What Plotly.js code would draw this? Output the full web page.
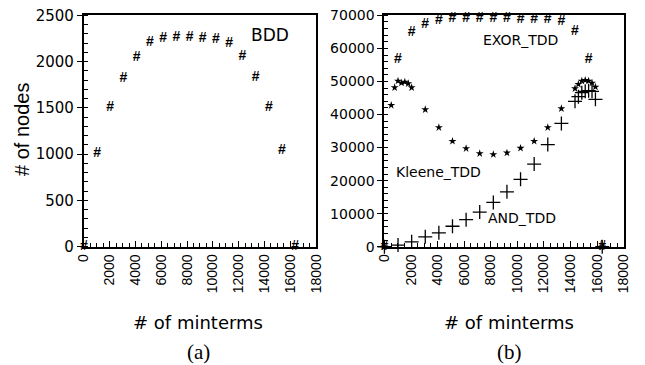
<!DOCTYPE html>
<html>
<head>
<meta charset="utf-8">
<script src="https://cdn.plot.ly/plotly-3.0.1.min.js"></script>
<style>html,body{margin:0;padding:0;background:#fff;}#chart{width:645px;height:365px;}.modebar-container,.modebar{display:none !important;}</style>
</head>
<body>
<div id="chart"></div>
<script>
// ---- data ----
var bddMinterms = [0,1024,2048,3072,4096,5120,6144,7168,8192,9216,10240,11264,12288,13312,14336,15360,16384];
var bddNodes    = [0,1010,1500,1815,2045,2205,2245,2262,2265,2255,2240,2200,2050,1830,1500,1035,0];

var exorMinterms = [0,1024,2048,3072,4096,5120,6144,7168,8192,9216,10240,11264,12288,13312,14336,15360,16384];
var exorNodes    = [0,56600,64700,67300,68300,69000,69000,69000,69000,69000,68800,68800,68800,68000,65000,56600,0];

var kleeneMinterms = [0,512,768,1024,1280,1536,1792,2048,3072,4096,5120,6144,7168,8192,9216,10240,11264,12288,13312,14336,14592,14848,15104,15360,15616,15872,16384];
var kleeneNodes    = [0,42800,48150,50150,49540,49850,49360,48150,41500,36070,31930,29720,28210,27910,28400,29820,31930,36070,41800,47850,49150,50150,50360,50150,49540,48340,0];

var andMinterms = [0,1024,2048,3072,4096,5120,6144,7168,8192,9216,10240,11264,12288,13312,14336,14592,14848,15104,15360,15616,15872,16384];
var andNodes    = [0,500,1500,3000,4200,6200,8200,10500,13400,16600,20400,25000,30900,37300,44000,45400,46600,47000,47200,47000,44600,0];

var xTickVals  = [0,2000,4000,6000,8000,10000,12000,14000,16000,18000];
var xTickText  = ['0','2000','4000','6000','8000','10000','12000','14000','16000','18000'];
var yTickValsA = [0,500,1000,1500,2000,2500];
var yTickTextA = ['0','500','1000','1500','2000','2500'];
var yTickValsB = [0,10000,20000,30000,40000,50000,60000,70000];
var yTickTextB = ['0','10000','20000','30000','40000','50000','60000','70000'];

var labels = {
  bdd: 'BDD', exor: 'EXOR_TDD', kleene: 'Kleene_TDD', and: 'AND_TDD',
  xTitle: '# of minterms', yTitle: '# of nodes', a: '(a)', b: '(b)'
};

function hashes(n){ var t=[]; for(var i=0;i<n;i++) t.push('#'); return t; }
var hashFont = {family:'Liberation Sans, Arial, sans-serif', size:14, color:'black', weight:'bold'};

var traces = [
  {x:bddMinterms, y:bddNodes, mode:'text', text:hashes(bddMinterms.length),
   textfont:hashFont, xaxis:'x', yaxis:'y', cliponaxis:false},
  {x:exorMinterms, y:exorNodes, mode:'text', text:hashes(exorMinterms.length),
   textfont:hashFont, xaxis:'x2', yaxis:'y2', cliponaxis:false},
  {x:kleeneMinterms, y:kleeneNodes, mode:'markers', marker:{symbol:'star', size:6, color:'black'},
   xaxis:'x2', yaxis:'y2', cliponaxis:false},
  {x:andMinterms, y:andNodes, mode:'markers', marker:{symbol:'cross-thin', size:10, color:'black', line:{width:1.3, color:'black'}},
   xaxis:'x2', yaxis:'y2', cliponaxis:false}
];

var W = 645, H = 365;
var yDom = [0.324, 0.958];
var xDomA = [0.130, 0.490], xDomB = [0.596, 0.967];

function xAxis(domain){
  return {domain:domain, range:[0,18000],
    tickmode:'array', tickvals:xTickVals, ticktext:xTickText, tickangle:-90,
    ticks:'inside', ticklen:6, tickcolor:'black', tickwidth:1,
    minor:{dtick:500, ticks:'inside', ticklen:4},
    showline:true, mirror:true, linecolor:'black', linewidth:2,
    tickfont:{family:'Liberation Sans, Arial, sans-serif', size:14, color:'black'}};
}
function yAxis(domain, range, vals, txt, mdt, fsize){
  return {domain:domain, range:range,
    tickmode:'array', tickvals:vals, ticktext:txt,
    ticks:'outside', ticklen:5, tickcolor:'black', tickwidth:1,
    minor:{dtick:mdt, ticks:'inside', ticklen:4},
    showline:true, mirror:true, linecolor:'black', linewidth:2, showgrid:false, zeroline:false,
    tickfont:{family:'DejaVu Sans, sans-serif', size:fsize, color:'black'}};
}

function ann(text, px, py, font, extra){
  var a = {text:text, xref:'paper', yref:'paper', x:px/W, y:1-py/H, xanchor:'center', yanchor:'middle',
           showarrow:false, font:font};
  if (extra) for (var k in extra) a[k] = extra[k];
  return a;
}
var dv = function(s){ return {family:'DejaVu Sans, sans-serif', size:s, color:'black'}; };
var serif = {family:'Liberation Serif, Times New Roman, serif', size:21, color:'black'};

var xa = xAxis(xDomA); xa.showgrid = false; xa.zeroline = false;
var xb = xAxis(xDomB); xb.showgrid = false; xb.zeroline = false; xb.anchor = 'y2';
var ya = yAxis(yDom, [0,2500], yTickValsA, yTickTextA, 100, 15);
var yb = yAxis(yDom, [0,70000], yTickValsB, yTickTextB, 2000, 14); yb.anchor = 'x2';

var layout = {
  width:W, height:H, margin:{l:0,r:0,t:0,b:0}, showlegend:false,
  xaxis: xa, yaxis: ya, xaxis2: xb, yaxis2: yb,
  annotations: [
    ann(labels.bdd, 269.5, 35, dv(17)),
    ann(labels.exor, 520, 40, dv(14)),
    ann(labels.kleene, 438, 171.7, dv(14)),
    ann(labels.and, 522, 218, dv(14)),
    ann(labels.xTitle, 198, 322, dv(18)),
    ann(labels.xTitle, 509, 322, dv(18)),
    ann(labels.yTitle, 22, 130, {family:'Liberation Sans, Arial, sans-serif', size:20, color:'black'}, {textangle:-90}),
    ann(labels.a, 198, 352, serif),
    ann(labels.b, 509, 352, serif)
  ]
};

Plotly.newPlot('chart', traces, layout);
</script>
</body>
</html>
